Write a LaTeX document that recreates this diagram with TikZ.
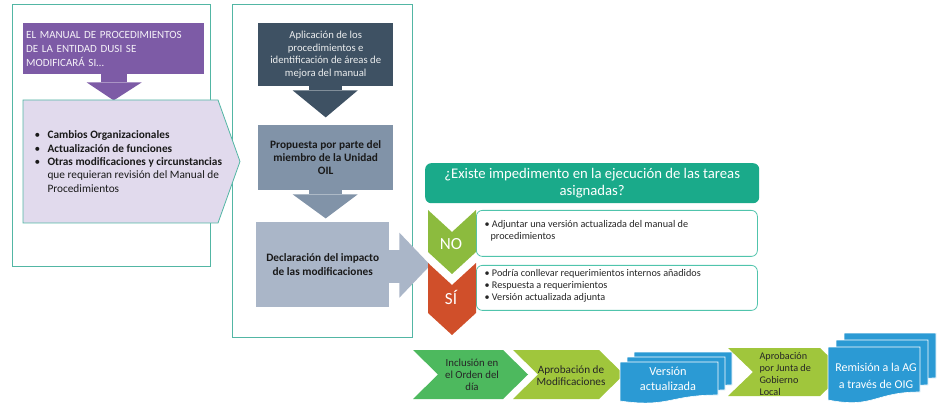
\documentclass[tikz,border=0pt]{standalone}
\usepackage{fontspec}
\setmainfont{Carlito}
\usepackage{xcolor}
\usetikzlibrary{positioning, calc}
\definecolor{framegreen}{RGB}{82, 182, 164}
\definecolor{manualpurple}{RGB}{125, 91, 166}
\definecolor{causelavender}{RGB}{225, 218, 237}
\definecolor{slatedark}{RGB}{62, 81, 99}
\definecolor{slatemid}{RGB}{129, 147, 168}
\definecolor{slatelight}{RGB}{170, 182, 200}
\definecolor{questionteal}{RGB}{26, 170, 138}
\definecolor{answerteal}{RGB}{80, 196, 172}
\definecolor{nogreen}{RGB}{140, 187, 62}
\definecolor{sired}{RGB}{208, 79, 42}
\definecolor{stepgreen}{RGB}{77, 185, 94}
\definecolor{steplime}{RGB}{160, 198, 60}
\definecolor{docblue}{RGB}{43, 154, 212}

\begin{document}
\begin{tikzpicture}[
    x=1pt, y=-1pt,
    panel/.style={draw=framegreen, line width=0.9pt, anchor=north west, inner sep=0pt},
    slatebox/.style={anchor=north west, inner sep=2pt, align=center, font=\fontsize{10.7}{12.7}\selectfont},
    answer/.style={draw=answerteal, line width=0.8pt, fill=white, rounded corners=6pt, anchor=north west, inner sep=0pt},
    answertext/.style={anchor=west, align=left, font=\fontsize{10.2}{12}\selectfont, text=black!85},
    chevtext/.style={font=\fontsize{17}{18}\selectfont, text=white},
    steptext/.style={align=center, font=\fontsize{10.8}{12}\selectfont, text=black!85},
    doc/.style={fill=docblue, draw=white, line width=0.6pt}
]
\useasboundingbox (0,0) rectangle (937,403);

% Panels
\node[panel, minimum width=198pt, minimum height=262pt] (panelL) at (12,4) {};
\node[panel, minimum width=180pt, minimum height=333pt] (panelM) at (232,4) {};

% Left panel
\node[anchor=north west, fill=manualpurple, minimum width=181pt, minimum height=51pt,
      text width=175pt, inner xsep=3pt, align=left, text=white!92!manualpurple,
      font=\fontsize{11}{14}\selectfont] (manual) at (23,23)
      {EL MANUAL DE PROCEDIMIENTOS\\DE LA ENTIDAD DUSI SE\\MODIFICARÁ SI\dots};
\fill[manualpurple] ($(manual.south)+(-13,0)$) rectangle ($(manual.south)+(13,8)$);
\fill[manualpurple] ($(manual.south)+(-27,8)$) -- ($(manual.south)+(28,8)$) -- ($(manual.south)+(0,26)$) -- cycle;

\filldraw[fill=causelavender, draw=framegreen, line width=0.8pt]
    (23,100) -- (218,100) -- (240,161.5) -- (218,223) -- (23,223) -- cycle;
\node[anchor=west, align=left, font=\fontsize{11.3}{13.4}\selectfont, text=black!90] (causes) at (31,161.5)
    {\makebox[13pt][l]{\textbullet}\textbf{Cambios Organizacionales}\\
     \makebox[13pt][l]{\textbullet}\textbf{Actualización de funciones}\\
     \makebox[13pt][l]{\textbullet}\textbf{Otras modificaciones y circunstancias}\\
     \hspace*{13pt}que requieran revisión del Manual de\\
     \hspace*{13pt}Procedimientos};

% Middle panel
\node[slatebox, fill=slatedark, minimum width=135pt, minimum height=63pt, text=white!90!slatedark] (apply) at (258,23)
    {Aplicación de los\\procedimientos e\\identificación de áreas de\\mejora del manual};
\fill[slatedark] ($(apply.south)+(-17,0)$) rectangle ($(apply.south)+(16,4)$);
\fill[slatedark] ($(apply.south)+(-33,4)$) -- ($(apply.south)+(32,4)$) -- ($(apply.south)+(0,31)$) -- cycle;

\node[slatebox, fill=slatemid, minimum width=135pt, minimum height=65pt, font=\fontsize{11.3}{12.7}\selectfont\bfseries, text=black!90] (proposal) at (258,125)
    {Propuesta por parte del\\miembro de la Unidad\\OIL};
\fill[slatemid] ($(proposal.south)+(-17,0)$) rectangle ($(proposal.south)+(16,4)$);
\fill[slatemid] ($(proposal.south)+(-33,4)$) -- ($(proposal.south)+(32,4)$) -- ($(proposal.south)+(0,28)$) -- cycle;

\node[slatebox, fill=slatelight, minimum width=133pt, minimum height=85pt, font=\fontsize{11.3}{13.8}\selectfont\bfseries, text=black!90] (impact) at (256,222)
    {Declaración del impacto\\de las modificaciones};
\fill[slatelight] ($(impact.east)+(0,-15)$) rectangle ($(impact.east)+(11,18)$);
\fill[slatelight] ($(impact.east)+(10,-32)$) -- ($(impact.east)+(41,0.5)$) -- ($(impact.east)+(10,33)$) -- cycle;

% Question and answers
\node[anchor=north west, fill=questionteal, rounded corners=6pt, minimum width=334pt, minimum height=40pt,
      align=center, text=white, font=\fontsize{14.7}{16.5}\selectfont] (question) at (425,163)
    {¿Existe impedimento en la ejecución de las tareas\\asignadas?};

\node[answer, minimum width=281pt, minimum height=46pt] (nobox) at (476,210) {};
\node[answertext] (notext) at (481,231) {\textbullet\ Adjuntar una versión actualizada del manual de\\\hspace*{6pt}procedimientos};
\node[answer, minimum width=281pt, minimum height=45pt] (sibox) at (476,265) {};
\node[answertext] (sitext) at (481,285.5) {\textbullet\ Podría conllevar requerimientos internos añadidos\\
    \textbullet\ Respuesta a requerimientos\\\textbullet\ Versión actualizada adjunta};

\fill[nogreen] (428,210) -- (452,232) -- (476,210) -- (476,252) -- (452,274) -- (428,252) -- cycle;
\node[chevtext] (no) at (451,244) {NO};
\fill[sired] (428,263) -- (452,285) -- (476,263) -- (476,313) -- (452,335) -- (428,313) -- cycle;
\node[chevtext] (si) at (451,297) {SÍ};

% Bottom steps
\fill[stepgreen] (413,350) -- (503,350) -- (528,374.5) -- (503,399) -- (413,399) -- (438,374.5) -- cycle;
\node[steptext] (incl) at (472,375) {Inclusión en\\el Orden del\\día};
\fill[steplime] (513,350) -- (599,350) -- (624,374.5) -- (599,399) -- (513,399) -- (538,374.5) -- cycle;
\node[steptext, font=\fontsize{11.2}{12}\selectfont] (aprmod) at (571,376) {Aprobación de\\Modificaciones};

\foreach \s in {2,1,0}
  \filldraw[doc, shift={(620+7*\s, 362-5*\s)}]
    (0,0) -- (98,0) -- (98,33) .. controls (49,33) and (49,46) .. (0,39) -- cycle;
\node[align=center, text=white, font=\fontsize{12.3}{15}\selectfont] (verdoc) at (668,379) {Versión\\actualizada};

\fill[steplime] (728,348) -- (820,348) -- (845,372) -- (820,396) -- (728,396) -- (753,372) -- cycle;
\node[anchor=west, align=left, font=\fontsize{10.2}{12}\selectfont, text=black!85] (aprjunta) at (756,374)
    {Aprobación\\por Junta de\\Gobierno\\Local};

\foreach \s in {2,1,0}
  \filldraw[doc, shift={(828+8*\s, 347-7*\s)}]
    (0,0) -- (92,0) -- (92,45) .. controls (46,45) and (46,62) .. (0,53) -- cycle;
\node[align=center, text=white, font=\fontsize{12}{17}\selectfont] (remdoc) at (876,376) {Remisión a la AG\\a través de OIG};

\end{tikzpicture}
\end{document}
